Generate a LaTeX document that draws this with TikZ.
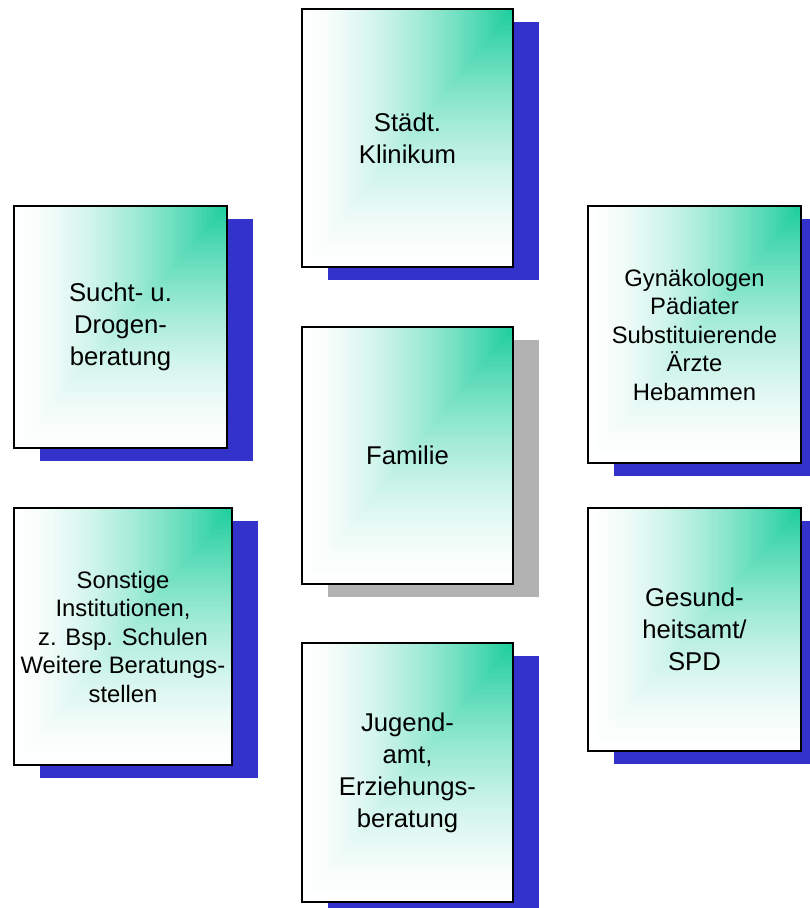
\documentclass[tikz,border=0pt]{standalone}
\usepackage{fontspec}
\setmainfont{Liberation Sans}
\usetikzlibrary{shadows,calc}
\definecolor{boxgreen}{HTML}{1ACD9B}
\definecolor{shblue}{HTML}{3333CC}
\definecolor{shgray}{HTML}{B2B2B2}
\tikzset{
  cornershade/.style={path picture={
    \foreach \i in {1,...,59}{
      \pgfmathsetmacro{\tt}{1-\i/60}
      \pgfmathsetmacro{\pp}{100*(\i/60)^1.5}
      \fill[boxgreen!\pp!white] (path picture bounding box.north east) rectangle ($(path picture bounding box.north east)!\tt!(path picture bounding box.south west)$);
    }}},
  gbox/.style 2 args={draw=black, fill=white, line width=1.2pt, inner sep=0pt, outer sep=0pt,
    minimum width=#1, minimum height=#2, align=center, cornershade},
  blueshadow/.style={drop shadow={shadow xshift=26pt, shadow yshift=-13pt, fill=shblue, opacity=1}},
  grayshadow/.style={drop shadow={shadow xshift=26pt, shadow yshift=-13pt, fill=shgray, opacity=1}},
  bigtext/.style={font=\fontsize{25.7}{32}\selectfont},
  smalltext/.style={font=\fontsize{23.8}{28.5}\selectfont},
}
\begin{document}
\begin{tikzpicture}[x=1pt,y=-1pt]
\useasboundingbox (0,0) rectangle (809,908);
\node[gbox={211pt}{258pt}, blueshadow, bigtext] (klinikum) at (407.5,138) {Städt.\\Klinikum};
\node[gbox={213pt}{242pt}, blueshadow, bigtext] (sucht) at (120.5,327) {Sucht- u.\\Drogen-\\beratung};
\node[gbox={213pt}{257pt}, blueshadow, smalltext] (gyn) at (694.5,334.5) {Gynäkologen\\Pädiater\\Substituierende\\Ärzte\\Hebammen};
\node[gbox={211pt}{257pt}, grayshadow, bigtext] (familie) at (407.5,455.5) {Familie};
\node[gbox={218pt}{257pt}, blueshadow, smalltext] (sonstige) at (123,636.5) {Sonstige\\Institutionen,\\z. Bsp. Schulen\\Weitere Beratungs-\\stellen};
\node[gbox={213pt}{243pt}, blueshadow, bigtext] (gesund) at (694.5,629.5) {Gesund-\\heitsamt/\\SPD};
\node[gbox={211pt}{259pt}, blueshadow, bigtext] (jugend) at (407.5,772.5) {Jugend-\\amt,\\Erziehungs-\\beratung};
\end{tikzpicture}
\end{document}
